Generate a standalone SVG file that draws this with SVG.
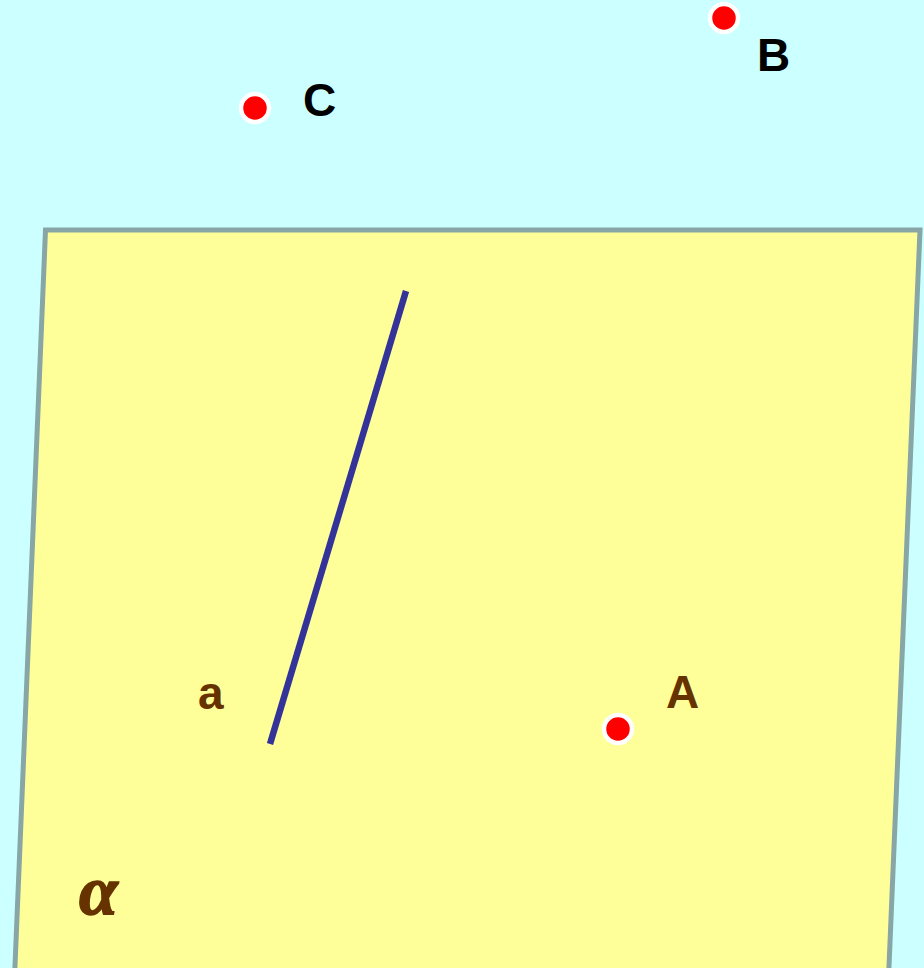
<svg xmlns="http://www.w3.org/2000/svg" width="924" height="968" viewBox="0 0 924 968">
<style>
.pt{fill:#ff0000;stroke:#ffffff;stroke-width:4.5}
.lbl{font-family:"Liberation Sans",Arial,sans-serif;font-weight:bold;font-size:46px}
.dark{fill:#000000}
.brown{fill:#663300}
</style>
<rect width="924" height="968" fill="#ccffff"/>
<g id="plane">
<polygon points="45.5,230 920,230 888,990 14,990" fill="#ffff99" stroke="#88a6a6" stroke-width="5"/>
<text x="79" y="914" style="font-family:'Liberation Serif','Times New Roman',serif;font-weight:bold;font-style:italic;font-size:70px;stroke:#663300;stroke-width:1.6" class="brown">α</text>
</g>
<g id="connectors">
<line id="a" x1="406" y1="291" x2="270" y2="744" stroke="#333399" stroke-width="6.5"/>
</g>
<g id="line-a-label"><text x="198" y="709" class="lbl brown">a</text></g>
<g id="B"><circle cx="724" cy="18" r="14" class="pt"/><text x="757" y="71" class="lbl dark">B</text></g>
<g id="C"><circle cx="255" cy="108" r="14" class="pt"/><text x="303" y="116" class="lbl dark">C</text></g>
<g id="A"><circle cx="618" cy="729" r="14" class="pt"/><text x="666" y="708" class="lbl brown">A</text></g>
</svg>
